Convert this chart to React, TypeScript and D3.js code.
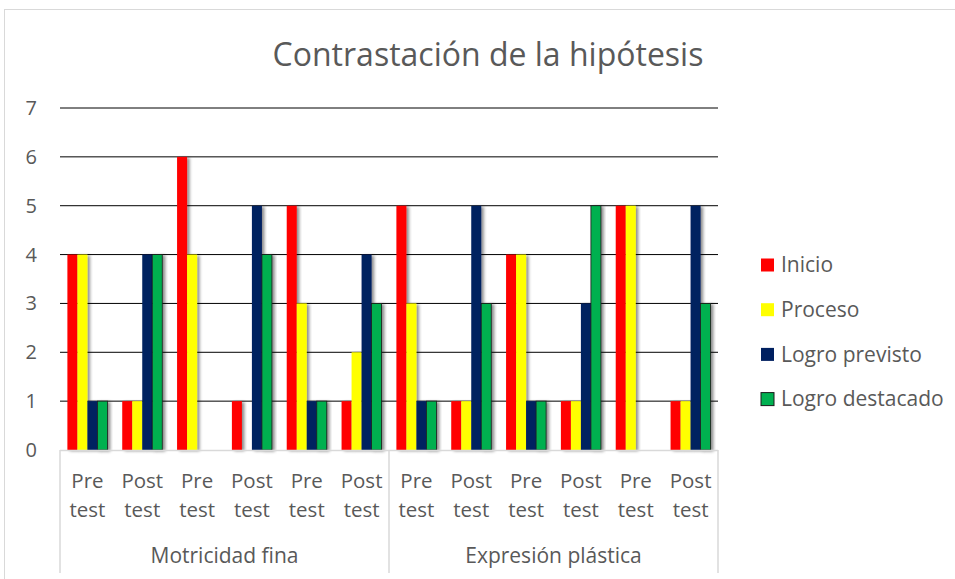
import React from 'react';
import * as d3 from 'd3';

const groups = ['Pre test', 'Post test', 'Pre test', 'Post test', 'Pre test', 'Post test',
  'Pre test', 'Post test', 'Pre test', 'Post test', 'Pre test', 'Post test'];
const dimensions = ['Motricidad fina', 'Expresión plástica'];
const seriesNames = ['Inicio', 'Proceso', 'Logro previsto', 'Logro destacado'];
const inicio = [4, 1, 6, 1, 5, 1, 5, 1, 4, 1, 5, 1];
const proceso = [4, 1, 4, 0, 3, 2, 3, 1, 4, 1, 5, 1];
const logroPrevisto = [1, 4, 0, 5, 1, 4, 1, 5, 1, 3, 0, 5];
const logroDestacado = [1, 4, 0, 4, 1, 3, 1, 3, 1, 5, 0, 3];
const yTicks = [0, 1, 2, 3, 4, 5, 6, 7];

const colors = ['#FF0000', '#FFFF00', '#002060', '#00B050'];
const font = '"Open Sans", "DejaVu Sans", sans-serif';
const textColor = '#595959';

const App = () => {
  const width = 955;
  const height = 579;
  const plot = { left: 60, right: 718, top: 108, bottom: 450 };
  const values = [inicio, proceso, logroPrevisto, logroDestacado];

  const x = d3.scaleBand<number>()
    .domain(d3.range(groups.length))
    .range([plot.left, plot.right])
    .padding(0);
  const step = x.step();
  const barsWidth = step * 0.73;
  const x1 = d3.scaleBand<number>()
    .domain(d3.range(seriesNames.length))
    .range([(step - barsWidth) / 2, (step + barsWidth) / 2])
    .padding(0);
  const y = d3.scaleLinear().domain([0, 7]).range([plot.bottom, plot.top]);

  const perDim = groups.length / dimensions.length;
  const dimX = (i: number) => x(i * perDim) as number;

  return (
    <div style={{ position: 'absolute', left: 0, top: 0 }}>
      <svg width={width} height={height} style={{ display: 'block', background: '#fff' }}>
        <defs>
          <filter id="shadow" x="-50%" y="-10%" width="200%" height="120%">
            <feDropShadow dx="2.5" dy="1" stdDeviation="1.8" floodColor="#000" floodOpacity="0.45" />
          </filter>
        </defs>
        <rect x={4.5} y={9.5} width={970} height={600} fill="#fff" stroke="#d9d9d9" strokeWidth={1} />

        <text x={488} y={66} textAnchor="middle" fontFamily={font} fontSize={32} fill={textColor}>
          Contrastación de la hipótesis
        </text>

        {yTicks.map(t => (
          <g key={t}>
            {t > 0 && (
              <line x1={plot.left} x2={plot.right} y1={y(t)} y2={y(t)} stroke="#000" strokeWidth={1} />
            )}
            <text x={37} y={y(t)} dy="0.35em" textAnchor="end" fontFamily={font} fontSize={20} fill={textColor}>
              {t}
            </text>
          </g>
        ))}

        {groups.map((g, gi) => (
          <g key={gi} transform={`translate(${x(gi)},0)`}>
            {values.map((vals, si) => {
              const v = vals[gi];
              if (v <= 0) return null;
              return (
                <rect key={si}
                  x={x1(si)}
                  y={y(v)}
                  width={x1.bandwidth()}
                  height={y(0) - y(v)}
                  fill={colors[si]}
                  stroke={si === 3 ? '#1a1a1a' : 'none'}
                  strokeWidth={si === 3 ? 0.8 : 0}
                  filter="url(#shadow)"
                />
              );
            })}
          </g>
        ))}

        <line x1={plot.left} x2={plot.right} y1={plot.bottom + 0.5} y2={plot.bottom + 0.5} stroke="#d9d9d9" strokeWidth={1.5} />
        {d3.range(dimensions.length + 1).map(i => {
          const xx = i < dimensions.length ? dimX(i) : plot.right;
          return (
            <line key={i} x1={xx} x2={xx} y1={plot.bottom} y2={573} stroke="#d9d9d9" strokeWidth={1.5} />
          );
        })}

        {groups.map((g, gi) => {
          const cx = (x(gi) as number) + step / 2;
          const parts = g.split(' ');
          return (
            <text key={gi} textAnchor="middle" fontFamily={font} fontSize={20.5} fill={textColor}>
              <tspan x={cx} y={488}>{parts[0]}</tspan>
              <tspan x={cx} y={517}>{parts[1]}</tspan>
            </text>
          );
        })}

        {dimensions.map((d, i) => {
          const x0 = dimX(i);
          const xEnd = i < dimensions.length - 1 ? dimX(i + 1) : plot.right;
          return (
            <text key={d} x={(x0 + xEnd) / 2} y={563} textAnchor="middle" fontFamily={font} fontSize={21} fill={textColor}>
              {d}
            </text>
          );
        })}

        {seriesNames.map((s, i) => {
          const ly = 265 + i * 44.7;
          return (
            <g key={s}>
              <rect x={761} y={ly - 6.5} width={13} height={13} fill={colors[i]}
                stroke={i === 3 ? '#1a1a1a' : 'none'} strokeWidth={i === 3 ? 1 : 0} />
              <text x={781} y={ly} dy="0.35em" fontFamily={font} fontSize={21} fill={textColor}>{s}</text>
            </g>
          );
        })}
      </svg>
    </div>
  );
};

export default App;
